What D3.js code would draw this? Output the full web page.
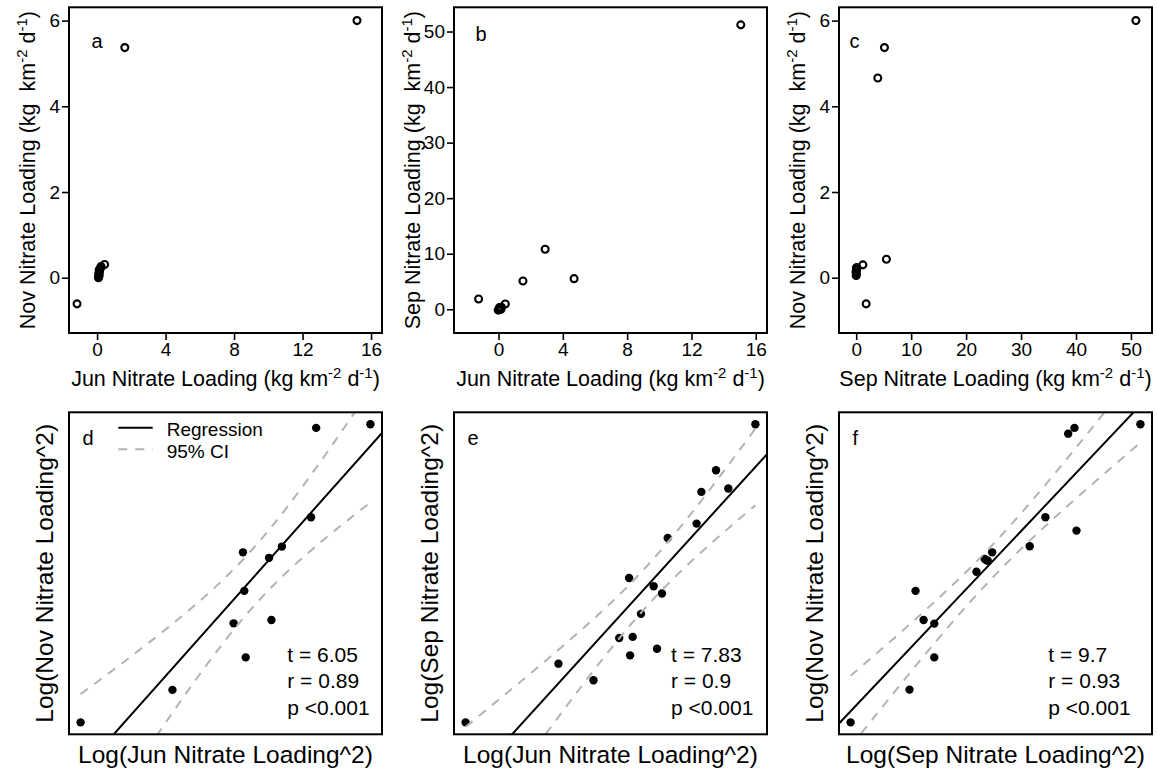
<!DOCTYPE html>
<html>
<head>
<meta charset="utf-8">
<script src="https://cdn.jsdelivr.net/npm/d3@7"></script>
<style>
  body { margin: 0; background: #fff; }
  text { font-family: "Liberation Sans", Arial, Helvetica, sans-serif; fill: #000; }
</style>
</head>
<body>
<svg id="chart" width="1157" height="774"></svg>
<script>
// ---- Raw nitrate loadings (kg km-2 d-1) ----
// Panel a: June vs November
const aJun = [15.18, 1.62, -1.17, 0.44, 0.23, 0.08, 0.10, 0.12, 0.10, 0.14, 0.12, 0.20];
const aNov = [6.00, 5.37, -0.61, 0.31, 0.26, 0.00, 0.03, 0.06, 0.10, 0.14, 0.18, 0.22];
// Panel b: June vs September
const bJun = [15.07, 2.90, 1.52, 4.70, -1.24, 0.42, -0.02, 0.05, 0.12, 0.18, 0.15, 0.05];
const bSep = [51.2, 10.8, 5.10, 5.51, 1.85, 0.95, -0.15, 0.05, 0.20, 0.35, 0.00, 0.30];
// Panel c: September vs November
const cSep = [50.9, 5.14, 3.93, 5.50, 1.81, 1.21, 0.00, 0.02, -0.03, 0.05, 0.03, 0.10];
const cNov = [6.00, 5.37, 4.66, 0.43, -0.61, 0.30, 0.05, 0.10, 0.14, 0.18, 0.22, 0.24];

// Tick labels
const ticksJun = [0, 4, 8, 12, 16];
const ticksSep = [0, 10, 20, 30, 40, 50];
const ticksNov = [0, 2, 4, 6];
const ticksSepY = [0, 10, 20, 30, 40, 50];

// ---- Log of squared loadings ----
// Panel d: log(Jun^2) vs log(Nov^2)
const dX = [-9.20, -4.56, -1.47, -0.86, 0.44, -0.93, -1.00, 0.32, 0.97, 2.44, 2.70, 5.44];
const dY = [-7.80, -6.56, -4.02, -5.32, -3.89, -2.78, -1.31, -1.52, -1.09, 0.03, 3.44, 3.58];
// Panel e: log(Jun^2) vs log(Sep^2)
const eX = [-9.20, -4.51, -2.74, -1.44, -0.89, -0.76, -0.34, 0.47, 0.30, 0.72, -0.94, 1.01, 2.47, 2.71, 3.45, 4.07, 5.44];
const eY = [-6.50, -3.67, -4.47, -2.43, -3.27, -2.38, -1.27, -2.95, 0.06, -0.29, 0.46, 2.39, 3.08, 4.61, 5.65, 4.77, 7.87];
// Panel f: log(Sep^2) vs log(Nov^2)
const fX = [-6.50, -3.58, -2.35, -3.28, -2.88, -2.35, -0.26, 0.15, 0.30, 0.52, 2.38, 3.16, 4.70, 4.29, 4.60, 7.87, 0.22];
const fY = [-7.80, -6.55, -5.32, -2.78, -3.89, -4.03, -2.05, -1.56, -1.63, -1.31, -1.08, 0.03, -0.48, 3.22, 3.44, 3.58, -1.60];

// Test statistics printed in each regression panel
const statT = ["t = 6.05", "t = 7.83", "t = 9.7"];
const statR = ["r = 0.89", "r = 0.9", "r = 0.93"];
const statP = ["p <0.001", "p <0.001", "p <0.001"];
// two-sided 95% Student t critical values by degrees of freedom
const tCrit = { 10: 2.228, 15: 2.131 };

// ---- Layout ----
const FONT_TICK = 19, FONT_LAB = 21.5, FONT_SUP = 15, FONT_LOG = 24.5, FONT_STAT = 21, FONT_LEG = 19, FONT_LET = 20;
const colX = [69, 454, 839], boxW = 313;
const rowTop = { y0: 7.3, y1: 333 }, rowBot = { y0: 412.3, y1: 734.3 };
const svg = d3.select("#chart");
svg.append("rect").attr("width", 1157).attr("height", 774).attr("fill", "#fff");

function unitTitle(t, label, gap) {
  t.attr("xml:space", "preserve").style("white-space", "pre");
  t.append("tspan").text(label + " (kg" + gap + "km");
  t.append("tspan").attr("font-size", FONT_SUP).attr("dy", -8).text("-2");
  t.append("tspan").attr("dy", 8).text(" d");
  t.append("tspan").attr("font-size", FONT_SUP).attr("dy", -8).text("-1");
  t.append("tspan").attr("dy", 8).text(")");
}

function drawBox(g, h) {
  g.append("rect").attr("x", 0).attr("y", 0).attr("width", boxW).attr("height", h)
    .attr("fill", "none").attr("stroke", "#000").attr("stroke-width", 2);
}

// ---- Top row: raw scatter plots with open circles ----
const rawPanels = [
  { col: 0, xs: aJun, ys: aNov, xLim: [-1.64, 16.64], yLim: [-1.29, 6.31], xt: ticksJun, yt: ticksNov,
    xLab: "Jun Nitrate Loading", yLab: "Nov Nitrate Loading", letter: "a", lx: 0, ly: 5.36 },
  { col: 1, xs: bJun, ys: bSep, xLim: [-2.77, 16.70], yLim: [-4.27, 54.36], xt: ticksJun, yt: ticksSepY,
    xLab: "Jun Nitrate Loading", yLab: "Sep Nitrate Loading", letter: "b", lx: -1.08, ly: 48.3 },
  { col: 2, xs: cSep, ys: cNov, xLim: [-3.13, 53.83], yLim: [-1.29, 6.31], xt: ticksSep, yt: ticksNov,
    xLab: "Sep Nitrate Loading", yLab: "Nov Nitrate Loading", letter: "c", lx: -0.3, ly: 5.36 }
];

rawPanels.forEach(p => {
  const h = rowTop.y1 - rowTop.y0;
  const g = svg.append("g").attr("transform", `translate(${colX[p.col]},${rowTop.y0})`);
  const x = d3.scaleLinear().domain(p.xLim).range([0, boxW]);
  const y = d3.scaleLinear().domain(p.yLim).range([h, 0]);

  const ax = g.append("g").attr("transform", `translate(0,${h})`)
    .call(d3.axisBottom(x).tickValues(p.xt).tickFormat(d3.format("d")).tickSize(7).tickPadding(3));
  const ay = g.append("g")
    .call(d3.axisLeft(y).tickValues(p.yt).tickFormat(d3.format("d")).tickSize(7).tickPadding(2));
  [ax, ay].forEach(a => {
    a.select(".domain").remove();
    a.selectAll("line").attr("stroke", "#000").attr("stroke-width", 1.6);
    a.selectAll("text").attr("font-size", FONT_TICK).attr("font-family", null);
  });

  g.selectAll("circle.pt").data(p.xs.map((v, i) => [v, p.ys[i]])).join("circle")
    .attr("class", "pt").attr("cx", d => x(d[0])).attr("cy", d => y(d[1])).attr("r", 3.5)
    .attr("fill", "none").attr("stroke", "#000").attr("stroke-width", 2.1);

  g.append("text").attr("x", x(p.lx)).attr("y", y(p.ly)).attr("text-anchor", "middle")
    .attr("font-size", FONT_LET).text(p.letter);

  drawBox(g, h);

  unitTitle(g.append("text").attr("x", boxW / 2).attr("y", h + 52.7)
    .attr("text-anchor", "middle").attr("font-size", FONT_LAB), p.xLab, " ");
  unitTitle(g.append("text").attr("transform", `translate(-34,${h / 2}) rotate(-90)`)
    .attr("text-anchor", "middle").attr("font-size", FONT_LAB), p.yLab, "  ");
});

// ---- Bottom row: log-log regressions with 95% confidence bands ----
const fitPanels = [
  { col: 0, xs: dX, ys: dY, xLab: "Log(Jun Nitrate Loading^2)", yLab: "Log(Nov Nitrate Loading^2)", letter: "d", sx: 218.3, legend: true },
  { col: 1, xs: eX, ys: eY, xLab: "Log(Jun Nitrate Loading^2)", yLab: "Log(Sep Nitrate Loading^2)", letter: "e", sx: 217, legend: false },
  { col: 2, xs: fX, ys: fY, xLab: "Log(Sep Nitrate Loading^2)", yLab: "Log(Nov Nitrate Loading^2)", letter: "f", sx: 209.3, legend: false }
];

function padded(vals) {
  const [lo, hi] = d3.extent(vals), pad = (hi - lo) * 0.04;
  return [lo - pad, hi + pad];
}

fitPanels.forEach((p, k) => {
  const h = rowBot.y1 - rowBot.y0;
  const g = svg.append("g").attr("transform", `translate(${colX[p.col]},${rowBot.y0})`);
  const x = d3.scaleLinear().domain(padded(p.xs)).range([0, boxW]);
  const y = d3.scaleLinear().domain(padded(p.ys)).range([h, 0]);
  const clipId = "clip" + k;
  g.append("clipPath").attr("id", clipId).append("rect").attr("width", boxW).attr("height", h);

  // ordinary least squares fit
  const n = p.xs.length, mx = d3.mean(p.xs), my = d3.mean(p.ys);
  const sxx = d3.sum(p.xs, v => (v - mx) ** 2);
  const sxy = d3.sum(p.xs.map((v, i) => (v - mx) * (p.ys[i] - my)));
  const slope = sxy / sxx, icpt = my - slope * mx;
  const sse = d3.sum(p.xs.map((v, i) => (p.ys[i] - (icpt + slope * v)) ** 2));
  const se = Math.sqrt(sse / (n - 2)), tq = tCrit[n - 2];
  const [xmin, xmax] = d3.extent(p.xs);
  const grid = d3.range(0, 101).map(i => xmin + (xmax - xmin) * i / 100);
  const band = grid.map(v => {
    const fit = icpt + slope * v, w = tq * se * Math.sqrt(1 / n + (v - mx) ** 2 / sxx);
    return { x: v, lo: fit - w, hi: fit + w };
  });

  g.selectAll("circle.pt").data(p.xs.map((v, i) => [v, p.ys[i]])).join("circle")
    .attr("class", "pt").attr("cx", d => x(d[0])).attr("cy", d => y(d[1])).attr("r", 4.2).attr("fill", "#000");

  const lines = g.append("g").attr("clip-path", `url(#${clipId})`);
  const xd = x.domain();
  lines.append("line")
    .attr("x1", x(xd[0])).attr("y1", y(icpt + slope * xd[0]))
    .attr("x2", x(xd[1])).attr("y2", y(icpt + slope * xd[1]))
    .attr("stroke", "#000").attr("stroke-width", 2);
  ["lo", "hi"].forEach(key => {
    lines.append("path").datum(band)
      .attr("d", d3.line().x(d => x(d.x)).y(d => y(d[key])))
      .attr("fill", "none").attr("stroke", "#b3b3b3").attr("stroke-width", 2).attr("stroke-dasharray", "9,8");
  });

  g.append("text").attr("x", 13.5).attr("y", 32.7).attr("font-size", FONT_LET).text(p.letter);

  [statT[k], statR[k], statP[k]].forEach((s, i) => {
    g.append("text").attr("x", p.sx).attr("y", 249.4 + i * 26.7).attr("font-size", FONT_STAT).text(s);
  });

  if (p.legend) {
    g.append("line").attr("x1", 49.3).attr("x2", 83.7).attr("y1", 15.4).attr("y2", 15.4)
      .attr("stroke", "#000").attr("stroke-width", 2);
    g.append("line").attr("x1", 49.3).attr("x2", 83.7).attr("y1", 37).attr("y2", 37)
      .attr("stroke", "#b3b3b3").attr("stroke-width", 2).attr("stroke-dasharray", "9,8");
    g.append("text").attr("x", 97.7).attr("y", 23.4).attr("font-size", FONT_LEG).text("Regression");
    g.append("text").attr("x", 97.7).attr("y", 46).attr("font-size", FONT_LEG).text("95% CI");
  }

  drawBox(g, h);

  g.append("text").attr("x", boxW / 2).attr("y", h + 28.4).attr("text-anchor", "middle")
    .attr("font-size", FONT_LOG).text(p.xLab);
  g.append("text").attr("transform", `translate(-16.3,${h / 2}) rotate(-90)`).attr("text-anchor", "middle")
    .attr("font-size", FONT_LOG).text(p.yLab);
});
</script>
</body>
</html>
